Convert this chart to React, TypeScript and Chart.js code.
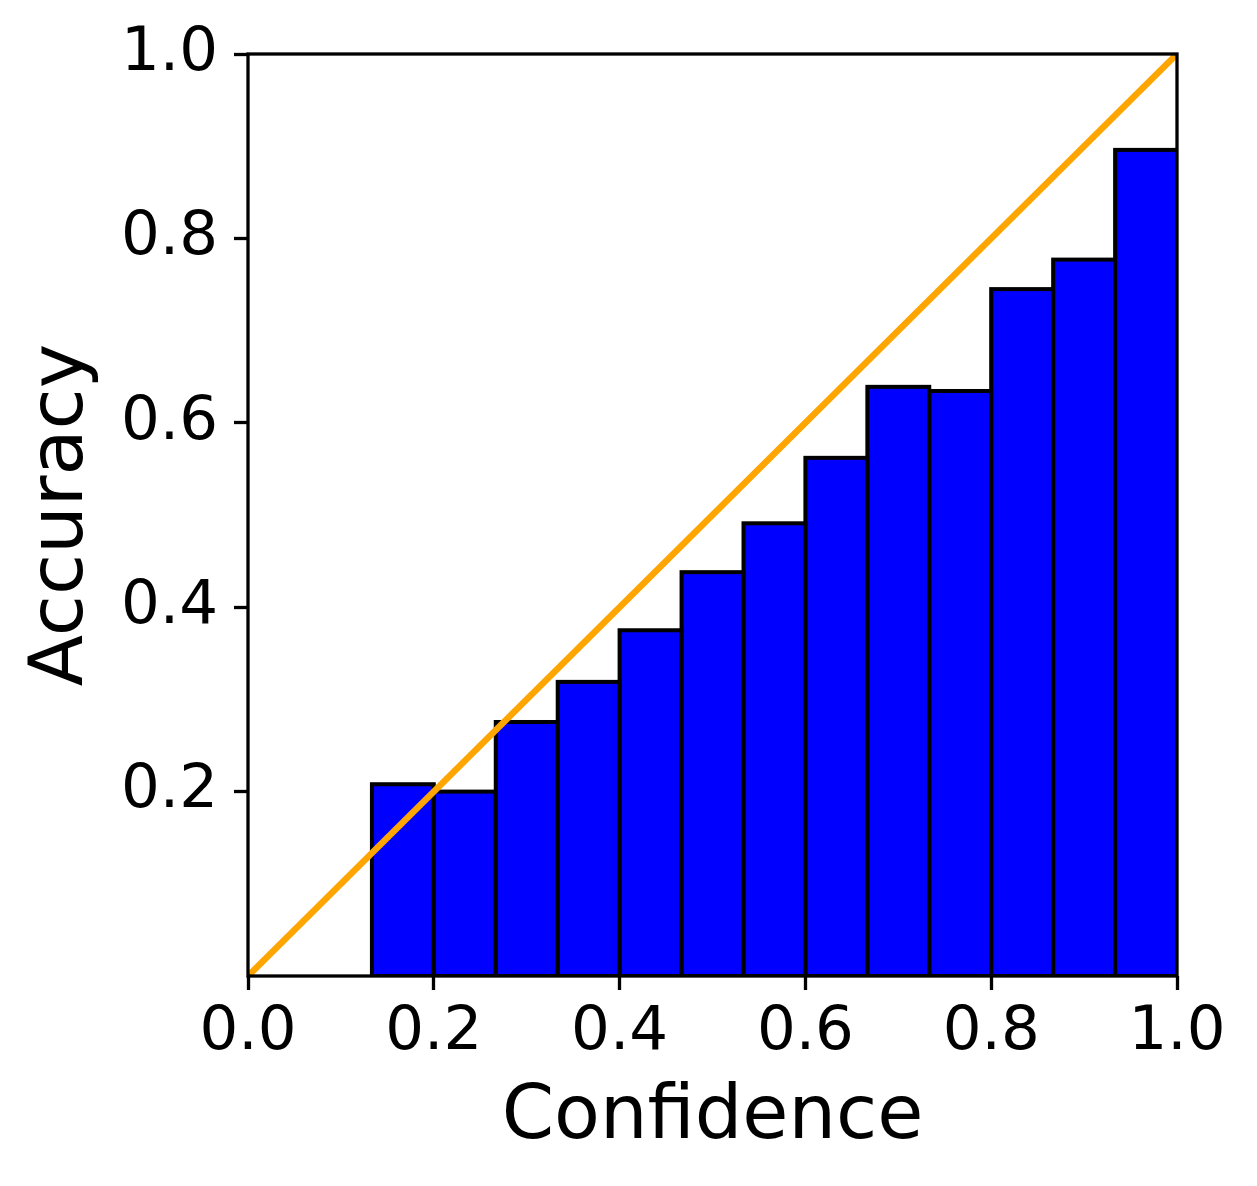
import React, { useEffect, useRef } from "react";
import { Chart, registerables } from "chart.js";

Chart.register(...registerables);

// Bin centres (15 equal-width bins on [0, 1]; the first two are empty)
const binCenters = [0.1667, 0.2333, 0.3, 0.3667, 0.4333, 0.5, 0.5667, 0.6333, 0.7, 0.7667, 0.8333, 0.9, 0.9667];
// Observed accuracy per bin
const accuracy = [0.208, 0.2, 0.2755, 0.319, 0.375, 0.438, 0.491, 0.562, 0.639, 0.6345, 0.745, 0.777, 0.896];
// Perfect calibration diagonal
const perfectX = [0, 1];
const perfectY = [0, 1];
// Tick labels
const xTickValues = [0, 0.2, 0.4, 0.6, 0.8, 1.0];
const yTickValues = [0.2, 0.4, 0.6, 0.8, 1.0];

const FONT = "'DejaVu Sans', sans-serif";

const barOutline = {
  id: "barOutline",
  afterDatasetDraw(chart: any, args: any) {
    if (args.meta.type !== "bar") return;
    const ctx = chart.ctx;
    const area = chart.chartArea;
    ctx.save();
    ctx.beginPath();
    ctx.rect(area.left, area.top, area.right - area.left, area.bottom - area.top);
    ctx.clip();
    ctx.lineWidth = 4;
    ctx.strokeStyle = "#000";
    args.meta.data.forEach((el: any) => {
      const { x, y, base, width } = el.getProps(["x", "y", "base", "width"], true);
      ctx.strokeRect(x - width / 2, Math.min(y, base), width, Math.abs(base - y));
    });
    ctx.restore();
  },
};

const frame = {
  id: "frame",
  afterDatasetsDraw(chart: any) {
    const ctx = chart.ctx;
    const a = chart.chartArea;
    ctx.save();
    ctx.lineWidth = 3.3;
    ctx.strokeStyle = "#000";
    ctx.strokeRect(a.left, a.top, a.right - a.left, a.bottom - a.top);
    ctx.restore();
  },
};

export default function App() {
  const ref = useRef<HTMLCanvasElement>(null);

  useEffect(() => {
    document.body.style.margin = "0";
    const canvas = ref.current;
    if (!canvas) return;
    const chart = new Chart(canvas, {
      type: "bar",
      data: {
        datasets: [
          {
            type: "line",
            data: perfectX.map((x, i) => ({ x, y: perfectY[i] })),
            borderColor: "#FFA500",
            borderWidth: 6.5,
            pointRadius: 0,
            fill: false,
            order: 0,
          } as any,
          {
            type: "bar",
            data: binCenters.map((x, i) => ({ x, y: accuracy[i] })),
            backgroundColor: "#0000FF",
            borderWidth: 0,
            barPercentage: 1,
            categoryPercentage: 1,
            order: 1,
          } as any,
        ],
      },
      options: {
        animation: false,
        responsive: false,
        devicePixelRatio: 1,
        layout: { padding: { left: 0, top: 54, right: 80, bottom: 0 } },
        plugins: { legend: { display: false }, tooltip: { enabled: false } },
        scales: {
          x: {
            type: "linear",
            min: 0,
            max: 1,
            offset: false,
            afterBuildTicks: (scale: any) => {
              scale.ticks = xTickValues.map((v) => ({ value: v }));
            },
            afterFit: (scale: any) => {
              scale.height = 210;
            },
            grid: {
              offset: false,
              drawOnChartArea: false,
              drawTicks: true,
              tickLength: 14,
              tickWidth: 3.3,
              tickColor: "#000",
            },
            border: { display: false },
            ticks: {
              color: "#000",
              padding: 7,
              maxRotation: 0,
              autoSkip: false,
              font: { family: FONT, size: 61, lineHeight: 1.2 },
              callback: (v: any) => Number(v).toFixed(1),
            },
            title: {
              display: true,
              text: "Confidence",
              color: "#000",
              font: { family: FONT, size: 75, lineHeight: 1.2 },
              padding: { top: 0, bottom: 22 },
            },
          } as any,
          y: {
            type: "linear",
            min: 0,
            max: 1,
            afterBuildTicks: (scale: any) => {
              scale.ticks = yTickValues.map((v) => ({ value: v }));
            },
            afterFit: (scale: any) => {
              scale.width = 248;
            },
            grid: {
              drawOnChartArea: false,
              drawTicks: true,
              tickLength: 14,
              tickWidth: 3.3,
              tickColor: "#000",
            },
            border: { display: false },
            ticks: {
              color: "#000",
              padding: 16,
              autoSkip: false,
              font: { family: FONT, size: 61, lineHeight: 1.2 },
              callback: (v: any) => Number(v).toFixed(1),
            },
            title: {
              display: true,
              text: "Accuracy",
              color: "#000",
              font: { family: FONT, size: 75, lineHeight: 1.2 },
              padding: { top: 18, bottom: 0 },
            },
          } as any,
        },
      },
      plugins: [barOutline, frame],
    });
    return () => chart.destroy();
  }, []);

  return (
    <canvas
      ref={ref}
      width={1257}
      height={1186}
      style={{ display: "block", width: "1257px", height: "1186px" }}
    />
  );
}
